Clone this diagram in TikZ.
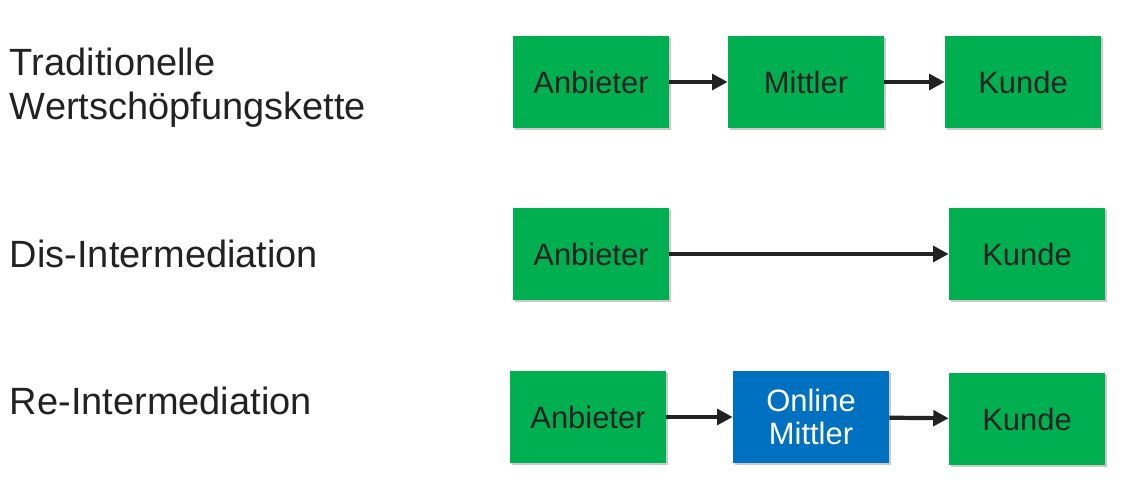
\documentclass[tikz,border=0pt]{standalone}
\usepackage{fontspec}
\setmainfont{Liberation Sans}
\usepackage{tikz}
\usetikzlibrary{shadows, arrows.meta}

\definecolor{boxgreen}{HTML}{00B050}
\definecolor{boxblue}{HTML}{0070C0}
\definecolor{textgray}{HTML}{222222}

\begin{document}
\begin{tikzpicture}[x=0.025cm, y=-0.025cm,
        box/.style={fill=boxgreen, minimum width=3.9cm, minimum height=2.3cm,
            inner sep=0pt, text=textgray, align=center,
            font=\fontsize{22}{24}\selectfont,
            drop shadow={shadow xshift=1.5pt, shadow yshift=-1.5pt, opacity=.35, fill=black!60}},
        onlinebox/.style={box, fill=boxblue, text=white},
        flow/.style={draw=textgray, line width=3pt, -{Triangle[length=11pt, width=11pt]}},
        rowlabel/.style={anchor=west, align=left, text=textgray,
            font=\fontsize{27}{31.5}\selectfont}]
        % the frame
        \useasboundingbox (0,0) rectangle (1123,490);

        % row labels
        \node[rowlabel] (trad) at (5,88) {Traditionelle\\Wertschöpfungskette};
        \node[rowlabel] (dis)  at (5,254) {Dis-Intermediation};
        \node[rowlabel] (re)   at (5,401) {Re-Intermediation};

        % traditional chain
        \node[box] (anb1) at (591,82)  {Anbieter};
        \node[box] (mit1) at (806,82)  {Mittler};
        \node[box] (kun1) at (1023,82) {Kunde};

        % dis-intermediation
        \node[box] (anb2) at (591,254)  {Anbieter};
        \node[box] (kun2) at (1027,254) {Kunde};

        % re-intermediation
        \node[box] (anb3) at (588,417)  {Anbieter};
        \node[onlinebox] (omit) at (811,417) {Online\\Mittler};
        \node[box] (kun3) at (1027,419) {Kunde};

        % the arrows
        \draw[flow] (anb1) -- (mit1);
        \draw[flow] (mit1) -- (kun1);
        \draw[flow] (anb2) -- (kun2);
        \draw[flow] (anb3) -- (omit);
        \draw[flow] (omit) -- (kun3);
    \end{tikzpicture}
\end{document}
